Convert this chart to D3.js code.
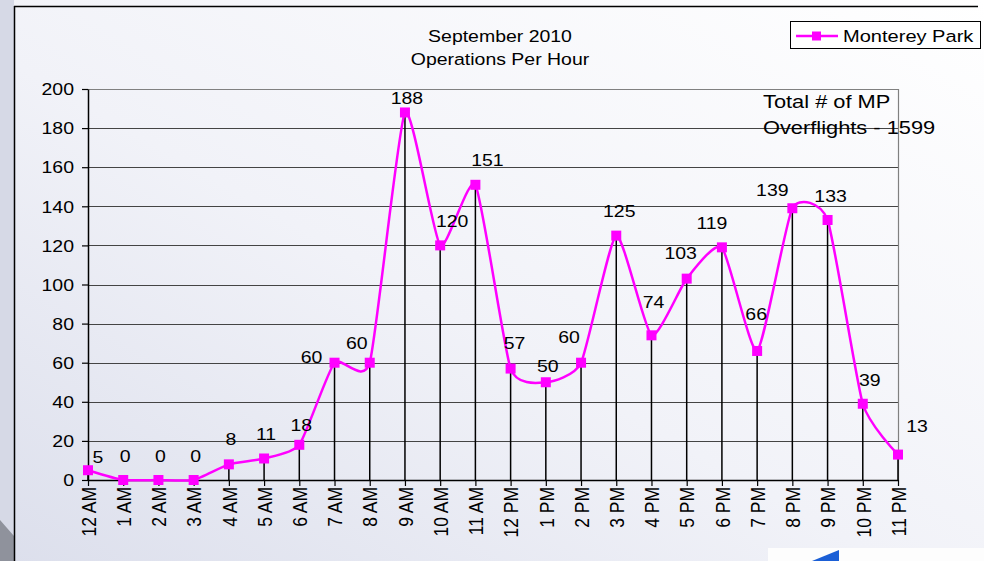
<!DOCTYPE html>
<html>
<head>
<meta charset="utf-8">
<script src="https://cdn.jsdelivr.net/npm/d3@7"></script>
<style>
  body { margin: 0; }
  svg { display: block; }
</style>
</head>
<body>
<svg width="984" height="561"></svg>
<script>
var hours = ["12 AM","1 AM","2 AM","3 AM","4 AM","5 AM","6 AM","7 AM","8 AM","9 AM","10 AM","11 AM",
             "12 PM","1 PM","2 PM","3 PM","4 PM","5 PM","6 PM","7 PM","8 PM","9 PM","10 PM","11 PM"];
var ops = [5,0,0,0,8,11,18,60,60,188,120,151,57,50,60,125,74,103,119,66,139,133,39,13];
var yTicks = [0,20,40,60,80,100,120,140,160,180,200];

// label nudges (dx, dy) relative to the point, where excel put them
var labelNudge = [[10,-13],[2,-24],[2,-24],[2,-24],[2,-25],[2,-24],[2,-20],[-23,-5],[-13,-19],[2,-14],[12,-24],[12,-25],
                  [4,-25],[2,-16],[-12,-25],[3,-24],[2,-33],[-6,-25],[-10,-24],[-1,-37],[-20,-18],[3,-24],[7,-24],[19,-28]];

var svg = d3.select("svg"),
    width = +svg.attr("width"),
    height = +svg.attr("height");

var font = "Liberation Sans, Arial, sans-serif";
var stretch = 1.18; // the picture is a bit wider than tall

// text helper: put text at x,y with the horizontal stretch
function label(g, x, y, s, size, anchor) {
  return g.append("text")
      .attr("transform", "translate(" + x + "," + y + ") scale(" + stretch + ",1)")
      .attr("text-anchor", anchor || "start")
      .attr("font-family", font)
      .attr("font-size", size)
      .attr("fill", "#000")
      .text(s);
}

var defs = svg.append("defs");
var bg = defs.append("linearGradient").attr("id","bg")
    .attr("x1","0").attr("y1","1").attr("x2","1").attr("y2","0");
bg.append("stop").attr("offset","0").attr("stop-color","#dcdfec");
bg.append("stop").attr("offset","0.45").attr("stop-color","#f1f2f8");
bg.append("stop").attr("offset","1").attr("stop-color","#ffffff");

svg.append("rect").attr("width",width).attr("height",height).attr("fill","url(#bg)");
// darker strip outside the frame on the left
svg.append("rect").attr("x",0).attr("y",0).attr("width",14).attr("height",height)
    .attr("fill","#d6d9e6");
svg.append("path").attr("d","M0,520L14,536L14,561L0,561Z").attr("fill","#8f929c");

// frame
svg.append("line").attr("x1",14).attr("x2",978).attr("y1",6.5).attr("y2",6.5)
    .attr("stroke","#000").attr("stroke-width",1.5);
svg.append("line").attr("x1",14.5).attr("x2",14.5).attr("y1",6).attr("y2",height)
    .attr("stroke","#000").attr("stroke-width",1.5);

// bottom-right logo fragment
svg.append("rect").attr("x",768).attr("y",548).attr("width",216).attr("height",13).attr("fill","#fdfdfd");
svg.append("path").attr("d","M812,561L839,550L839,561Z").attr("fill","#1b5fd6");

var margin = {left: 88, right: 86, top: 89, bottom: 81};
var x = d3.scalePoint().domain(hours).range([margin.left, width - margin.right]);
var y = d3.scaleLinear().domain([0,200]).range([height - margin.bottom, margin.top]);

// grid
svg.append("g").selectAll("line").data(yTicks.slice(1)).enter().append("line")
    .attr("x1", margin.left).attr("x2", width - margin.right)
    .attr("y1", function(d){ return Math.round(y(d)) + 0.5; })
    .attr("y2", function(d){ return Math.round(y(d)) + 0.5; })
    .attr("stroke", function(d){ return d == 200 ? "#808080" : "#444"; })
    .attr("stroke-width", 1.2);
svg.append("line").attr("x1", width - margin.right + 0.5).attr("x2", width - margin.right + 0.5)
    .attr("y1", y(200)).attr("y2", y(0)).attr("stroke","#808080").attr("stroke-width",1.2);

// drop lines
svg.append("g").selectAll("line").data(ops).enter().append("line")
    .attr("x1", function(d,i){ return x(hours[i]); })
    .attr("x2", function(d,i){ return x(hours[i]); })
    .attr("y1", function(d){ return y(d); })
    .attr("y2", y(0))
    .attr("stroke","#000").attr("stroke-width",1.5);

// axes
var yAxis = svg.append("g").attr("transform","translate(" + margin.left + ",0)")
    .call(d3.axisLeft(y).tickValues(yTicks).tickSize(6).tickSizeOuter(0));
var xAxis = svg.append("g").attr("transform","translate(0," + y(0) + ")")
    .call(d3.axisBottom(x).tickSize(6).tickSizeOuter(0));
[yAxis, xAxis].forEach(function(a){
  a.select(".domain").attr("stroke","#000").attr("stroke-width",1.5);
  a.selectAll(".tick line").attr("stroke","#000").attr("stroke-width",1.2);
  a.selectAll("text").attr("font-family", font).attr("fill","#000");
});
yAxis.selectAll("text")
    .attr("font-size",16.5)
    .attr("x", null).attr("dy", "0.35em")
    .attr("transform", "translate(-14,0) scale(" + stretch + ",1)");
xAxis.selectAll("text")
    .attr("font-size",17.5)
    .attr("transform","translate(0,7) scale(" + stretch + ",1) rotate(-90)")
    .attr("text-anchor","end")
    .attr("x",0).attr("y",0).attr("dy","0.35em");

// series
var line = d3.line()
    .x(function(d,i){ return x(hours[i]); })
    .y(function(d){ return y(d); })
    .curve(d3.curveCardinal.tension(0.45));
svg.append("path").datum(ops).attr("d", line)
    .attr("fill","none").attr("stroke","#ff00ff").attr("stroke-width",2.5);

svg.append("g").selectAll("rect").data(ops).enter().append("rect")
    .attr("x", function(d,i){ return x(hours[i]) - 5; })
    .attr("y", function(d){ return y(d) - 5; })
    .attr("width",10).attr("height",10)
    .attr("fill","#ff00ff");

var labels = svg.append("g");
ops.forEach(function(d, i) {
  label(labels, x(hours[i]) + labelNudge[i][0], y(d) + labelNudge[i][1], d, 16.5, "middle")
      .attr("dy", "0.35em");
});

// titles
label(svg, 500, 42, "September 2010", 16.5, "middle");
label(svg, 500, 65, "Operations Per Hour", 16.5, "middle");

label(svg, 763, 108, "Total # of MP", 18.5);
label(svg, 763, 134, "Overflights - 1599", 18.5);

// legend
var lg = svg.append("g");
lg.append("rect").attr("x",790.5).attr("y",21.5).attr("width",190).attr("height",27)
    .attr("fill","#fff").attr("stroke","#000").attr("stroke-width",1);
lg.append("line").attr("x1",796).attr("x2",838).attr("y1",36).attr("y2",36)
    .attr("stroke","#ff00ff").attr("stroke-width",2.5);
lg.append("rect").attr("x",812).attr("y",31.5).attr("width",9).attr("height",9).attr("fill","#ff00ff");
label(lg, 843, 42, "Monterey Park", 17);
</script>
</body>
</html>
